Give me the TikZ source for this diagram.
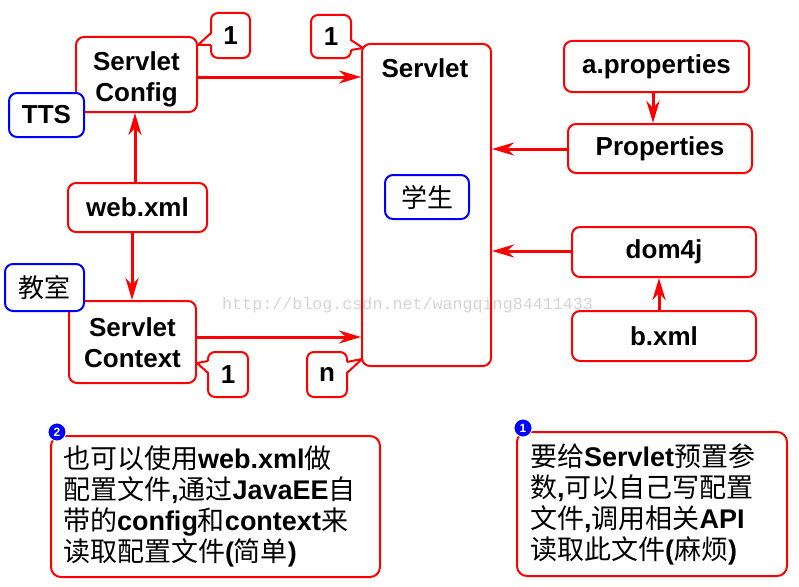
\documentclass[tikz,border=0pt]{standalone}
\usepackage{fontspec}
\setmainfont{Liberation Sans}
\setmonofont{Liberation Mono}
\newfontfamily\cjk{Noto Sans CJK SC}
\newcommand\zhtxt[1]{{\mdseries\cjk #1}}
\usetikzlibrary{arrows.meta,calc}
\definecolor{rd}{RGB}{255,0,0}
\definecolor{bl}{RGB}{0,0,255}
\begin{document}
\begin{tikzpicture}[x=1pt,y=-1pt,
  box/.style={draw=rd, line width=2pt, rounded corners=8pt, fill=white, inner sep=0pt, align=center, font=\bfseries\fontsize{26}{31}\selectfont},
  bbox/.style={box, draw=bl},
  txt/.style={inner sep=0pt, align=center, font=\bfseries\fontsize{26}{31}\selectfont},
  call/.style={box, rounded corners=7pt},
  note/.style={draw=rd, line width=2pt, rounded corners=10pt, fill=white, align=left, inner xsep=12pt, inner ysep=0pt, font=\bfseries\fontsize{27}{31}\selectfont},
  arr/.style={draw=rd, line width=3pt, -{Stealth[length=22pt,width=13pt,inset=7pt]}},
  tail/.style={draw=rd, line width=2pt, line join=round},
  ball/.style={circle, fill=bl, draw=white, line width=0.8pt, inner sep=0pt, minimum size=18pt, text=white, font=\bfseries\fontsize{12}{12}\selectfont}]
\useasboundingbox (0,0) rectangle (799,586);
% watermark
\node[anchor=base west, text=black!17, font=\ttfamily\fontsize{16.7}{17}\selectfont, inner sep=0pt] (wm) at (222,309) {http://blog.csdn.net/wangqing84411433};
% Servlet column
\node[box, minimum width=129pt, minimum height=322pt, fill=none] (sv) at (426.5,205) {};
\node[txt, anchor=base] (svt) at (425,77) {Servlet};
\node[bbox, minimum width=84pt, minimum height=44pt, font=\fontsize{26}{31}\selectfont\cjk] (xs) at (427,197) {学生};
% left side
\node[box, minimum width=121pt, minimum height=75pt] (sc) at (136.5,74.5) {};
\node[txt] (sct) at (136.5,79) {Servlet\\Config};
\node[bbox, minimum width=75pt, minimum height=44pt] (tts) at (46.5,115) {TTS};
\node[box, minimum width=139pt, minimum height=49pt] (wx) at (137.5,207.5) {web.xml};
\node[box, minimum width=127pt, minimum height=82pt] (ctx) at (132.5,342) {};
\node[txt] (ctxt) at (132.5,343) {Servlet\\Context};
\node[bbox, minimum width=79pt, minimum height=47pt, font=\fontsize{26}{31}\selectfont\cjk] (js) at (44.5,287.5) {教室};
% callouts
\node[call, minimum width=39pt, minimum height=45pt] (c1a) at (230.5,35.5) {1};
\node[call, minimum width=40pt, minimum height=43pt] (c1b) at (331,36.5) {1};
\node[call, minimum width=40pt, minimum height=45pt] (c1c) at (228,374.5) {1};
\node[call, minimum width=40pt, minimum height=45pt] (cn) at (327,374.5) {n};
\coordinate (t1a) at (198,45);
\coordinate (t1b) at (363,48);
\coordinate (t1c) at (197,363);
\coordinate (tn) at (362,359);
\fill[white] (213,33) -- (t1a) -- (213,45) -- cycle;
\draw[tail] (211,33) -- (t1a) -- (211,45);
\fill[white] (349,40) -- (t1b) -- (349,50) -- cycle;
\draw[tail] (351,40) -- (t1b) -- (351,50);
\fill[white] (210,361) -- (t1c) -- (210,373) -- cycle;
\draw[tail] (208,361) -- (t1c) -- (208,373);
\fill[white] (345,362) -- (tn) -- (345,373) -- cycle;
\draw[tail] (347,362) -- (tn) -- (347,373);
% right side
\node[box, minimum width=185pt, minimum height=51pt] (ap) at (656.5,66.5) {a.properties};
\node[box, minimum width=184pt, minimum height=49pt] (pr) at (660,148.5) {Properties};
\node[box, minimum width=184pt, minimum height=50pt] (d4) at (664,252) {dom4j};
\node[box, minimum width=184pt, minimum height=50pt] (bx) at (664,336) {b.xml};
% guide coordinates
\coordinate (y77) at (0,77);
\coordinate (y337) at (0,337);
\coordinate (y149) at (0,149);
\coordinate (y251) at (0,251);
\coordinate (x135) at (135,0);
\coordinate (x132) at (132,0);
\coordinate (x653) at (653,0);
\coordinate (x659) at (659,0);
% arrows
\draw[arr] (sc.east |- y77) -- (sv.west |- y77);
\draw[arr] (ctx.east |- y337) -- (sv.west |- y337);
\draw[arr] (wx.north -| x135) -- (sc.south -| x135);
\draw[arr] (wx.south -| x132) -- (ctx.north -| x132);
\draw[arr] (pr.west |- y149) -- (sv.east |- y149);
\draw[arr] (d4.west |- y251) -- (sv.east |- y251);
\draw[arr] (ap.south -| x653) -- (pr.north -| x653);
\draw[arr] (bx.north -| x659) -- (d4.south -| x659);
% notes
\node[note, text width=305pt, minimum height=141pt] (nl) at (215.5,506.5) {\zhtxt{也可以使用}web.xml\zhtxt{做}\\\zhtxt{配置文件},\zhtxt{通过}JavaEE\zhtxt{自}\\\zhtxt{带的}config\zhtxt{和}context\zhtxt{来}\\\zhtxt{读取配置文件}(\zhtxt{简单})};
\node[note, inner xsep=13pt, text width=244pt, minimum height=144pt] (nr) at (652,504) {\zhtxt{要给}Servlet\zhtxt{预置参}\\\zhtxt{数},\zhtxt{可以自己写配置}\\\zhtxt{文件},\zhtxt{调用相关}API\\\zhtxt{读取此文件}(\zhtxt{麻烦})};
\node[ball] (b2) at (57,432) {2};
\node[ball] (b1) at (523,428) {1};
\end{tikzpicture}
\end{document}
